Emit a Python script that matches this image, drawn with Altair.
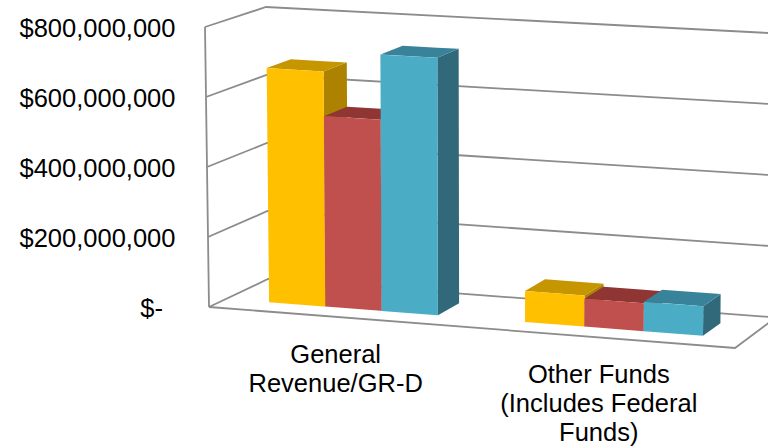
import altair as alt
import pandas as pd

# Budget figures by fund group and series
categories = ["General\nRevenue/GR-D", "Other Funds\n(Includes Federal\nFunds)"]
series_a = [672e6, 87e6]
series_b = [544e6, 78e6]
series_c = [729e6, 82e6]
axis_values = [0, 200e6, 400e6, 600e6, 800e6]
zero_label = "$-"

FRONT_COLORS = ["#FFC000", "#C0504D", "#4BACC6"]
TOP_COLORS = ["#C69600", "#8F3533", "#38829A"]
SIDE_COLORS = ["#AC8200", "#7F2C2A", "#31697A"]
LINE_COLOR = "#8C8C8C"
FONT = "Liberation Sans"
FONT_SIZE = 25.5

W, H = 768, 448
VMAX = 800e6

# Box of the 3D scene on screen: floor and ceiling corners (front/back, left/right)
FLOOR = {"fl": (209, 307), "fr": (735, 348), "bl": (268, 279), "br": (776, 317.5)}
CEIL = {"fl": (205, 27), "fr": (739, 56), "bl": (266, 7), "br": (778, 33.5)}

# Where each cluster sits along the width of the floor, and the depth of the columns
GROUP_SPAN = [(0.0825, 0.4067), (0.574, 0.9157)]
DEPTH = (0.29, 0.70)

ZERO_PX, TOP_PX = 308.5, 28.0
LABEL_RIGHT = 175


def px_to_value(py):
    return (ZERO_PX - py) / (ZERO_PX - TOP_PX) * VMAX


def plane(c, u, d):
    fx = c["fl"][0] + (c["fr"][0] - c["fl"][0]) * u
    fy = c["fl"][1] + (c["fr"][1] - c["fl"][1]) * u
    bx = c["bl"][0] + (c["br"][0] - c["bl"][0]) * u
    by = c["bl"][1] + (c["br"][1] - c["bl"][1]) * u
    return fx + (bx - fx) * d, fy + (by - fy) * d


def project(u, value, d):
    """Map (width, value, depth) in the scene to chart x and y-scale units."""
    t = value / VMAX
    x0, y0 = plane(FLOOR, u, d)
    x1, y1 = plane(CEIL, u, d)
    return x0 + (x1 - x0) * t, px_to_value(y0 + (y1 - y0) * t)


def slices(poly):
    """Turn a convex polygon into x / low / high rows for an area mark."""
    rows = []
    n = len(poly)
    for x in sorted({p[0] for p in poly}):
        ys = []
        for i in range(n):
            (ax, ay), (bx, by) = poly[i], poly[(i + 1) % n]
            if min(ax, bx) <= x <= max(ax, bx):
                if ax == bx:
                    ys += [ay, by]
                else:
                    ys.append(ay + (by - ay) * (x - ax) / (bx - ax))
        rows.append((x, min(ys), max(ys)))
    return rows


faces = []
face_id = 0


def add_face(poly, color):
    global face_id
    for x, lo, hi in slices(poly):
        faces.append(dict(face=f"f{face_id:03d}", px=x, low=lo, high=hi, shade=color))
    face_id += 1


for g, span in enumerate(GROUP_SPAN):
    width = (span[1] - span[0]) / 3
    for s, values in enumerate([series_a, series_b, series_c]):
        v = values[g]
        u0, u1 = span[0] + s * width, span[0] + (s + 1) * width
        d0, d1 = DEPTH
        add_face([project(u1, 0, d0), project(u1, 0, d1), project(u1, v, d1), project(u1, v, d0)], SIDE_COLORS[s])
        add_face([project(u0, v, d0), project(u1, v, d0), project(u1, v, d1), project(u0, v, d1)], TOP_COLORS[s])
        add_face([project(u0, 0, d0), project(u1, 0, d0), project(u1, v, d0), project(u0, v, d0)], FRONT_COLORS[s])

# Wall gridlines, left wall edge and the front and right edges of the floor
lines = []
line_id = 0


def add_line(points):
    global line_id
    for step, (x, y) in enumerate(points):
        lines.append(dict(line=line_id, step=step, px=x, low=y))
    line_id += 1


for level in axis_values:
    add_line([project(0, level, 0), project(0, level, 1), project(1, level, 1)])
add_line([project(0, 0, 0), project(0, VMAX, 0)])
add_line([project(0, 0, 0), project(1, 0, 0), project(1, 0, 1)])

# Category captions hang below the front edge of the floor
captions = []
for g, span in enumerate(GROUP_SPAN):
    x, y = project((span[0] + span[1]) / 2, 0, 0)
    captions.append(dict(px=x, low=y, label=categories[g]))

x_enc = alt.X(
    "px:Q",
    scale=alt.Scale(domain=[0, W], range=[0, W], nice=False, zero=False),
    axis=None,
)
y_enc = alt.Y(
    "low:Q",
    scale=alt.Scale(domain=[px_to_value(H), px_to_value(0)], range=[H, 0], nice=False, zero=False),
    stack=None,
    axis=alt.Axis(
        values=axis_values,
        # The zero tick is drawn separately, indented like an accounting format
        labelExpr="datum.value == 0 ? '' : format(datum.value, '$,.0f')",
        offset=-178,
        labelPadding=3,
        domain=False,
        ticks=False,
        grid=False,
        title=None,
        labelFont=FONT,
        labelFontSize=FONT_SIZE,
        labelColor="#000000",
        labelOverlap=False,
        labelBound=False,
        labelFlush=False,
    ),
)

wall = (
    alt.Chart(pd.DataFrame(lines))
    .mark_line(color=LINE_COLOR, strokeWidth=1.8, clip=True)
    .encode(x=x_enc, y=y_enc, detail="line:N", order="step:Q")
)

columns = (
    alt.Chart(pd.DataFrame(faces))
    .mark_area(clip=True)
    .encode(
        x=x_enc,
        y=y_enc,
        y2=alt.Y2("high:Q"),
        color=alt.Color("shade:N", scale=None),
        detail="face:N",
    )
)

labels = (
    alt.Chart(pd.DataFrame(captions))
    .mark_text(
        font=FONT,
        fontSize=FONT_SIZE,
        color="#000000",
        align="center",
        baseline="top",
        lineBreak="\n",
        lineHeight=29,
        dx=-2,
        dy=25.5,
    )
    .encode(x=x_enc, y=y_enc, text="label:N")
)

zero_tick = (
    alt.Chart(pd.DataFrame([dict(px=LABEL_RIGHT, low=0, label=zero_label)]))
    .mark_text(
        font=FONT,
        fontSize=FONT_SIZE,
        color="#000000",
        align="right",
        baseline="middle",
        dx=-12,
    )
    .encode(x=x_enc, y=y_enc, text="label:N")
)

chart = (
    alt.layer(wall, columns, labels, zero_tick)
    .properties(
        width=W,
        height=H,
        padding=0,
        autosize=alt.AutoSizeParams(type="none"),
        background="#FFFFFF",
    )
    .configure_view(stroke=None)
)

chart.save("out.html", embed_options={"renderer": "svg", "actions": False})
